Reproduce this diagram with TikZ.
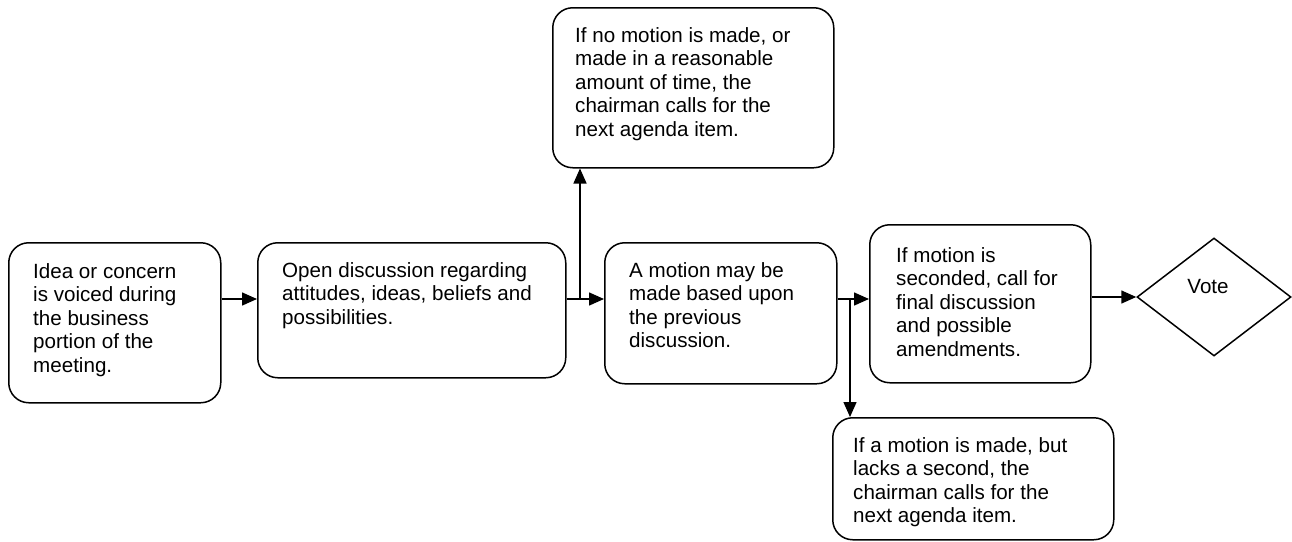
\documentclass[tikz,border=0pt]{standalone}
\usepackage{fontspec}
\setmainfont{Liberation Sans}
\usetikzlibrary{arrows.meta,shapes.geometric}
\begin{document}
\begin{tikzpicture}[x=1pt,y=-1pt,
  box/.style={draw,line width=1.5pt,rounded corners=20pt,rectangle,anchor=north west,inner sep=0pt},
  txt/.style={anchor=north west,inner sep=0pt,align=left,font=\fontsize{20.6}{23.6}\selectfont},
  arr/.style={line width=1.5pt,-{Triangle[length=15pt,width=13pt]}}]
\useasboundingbox (0,0) rectangle (1292,541);
% boxes
\node[box,minimum width=212pt,minimum height=160pt] (b1) at (8,242) {};
\node[box,minimum width=308pt,minimum height=135pt] (b2) at (257,242) {};
\node[box,minimum width=232pt,minimum height=141pt] (b3) at (604,242) {};
\node[box,minimum width=281pt,minimum height=160pt] (b4) at (552,7) {};
\node[box,minimum width=221pt,minimum height=158pt] (b5) at (869,224) {};
\node[box,minimum width=281pt,minimum height=122pt] (b6) at (832,417) {};
\node[draw,line width=1.5pt,diamond,minimum width=154pt,minimum height=118pt,inner sep=0pt] (vote) at (1214,297) {};
% texts
\node[txt] (t1) at (33,263) {Idea or concern\\is voiced during\\the business\\portion of the\\meeting.};
\node[txt] (t2) at (282,262) {Open discussion regarding\\attitudes, ideas, beliefs and\\possibilities.};
\node[txt] (t3) at (629,262) {A motion may be\\made based upon\\the previous\\discussion.};
\node[txt] (t4) at (575,27) {If no motion is made, or\\made in a reasonable\\amount of time, the\\chairman calls for the\\next agenda item.};
\node[txt] (t5) at (896,247) {If motion is\\seconded, call for\\final discussion\\and possible\\amendments.};
\node[txt] (t6) at (853,437) {If a motion is made, but\\lacks a second, the\\chairman calls for the\\next agenda item.};
\node[anchor=base,inner sep=0pt,font=\fontsize{20.6}{23.6}\selectfont] (tv) at (1208,293) {Vote};
% junctions
\coordinate (j1) at (580,299);
\coordinate (j2) at (850,299);
% connectors
\draw[arr] (b1.east |- j1) -- (b2.west |- j1);
\draw[arr] (b2.east |- j1) -- (b3.west |- j1);
\draw[arr] (j1) -- (j1 |- b4.south);
\draw[arr] (b3.east |- j2) -- (b5.west |- j2);
\draw[arr] (j2) -- (j2 |- b6.north);
\draw[arr] (b5.east |- vote.west) -- (vote.west);
\end{tikzpicture}
\end{document}
